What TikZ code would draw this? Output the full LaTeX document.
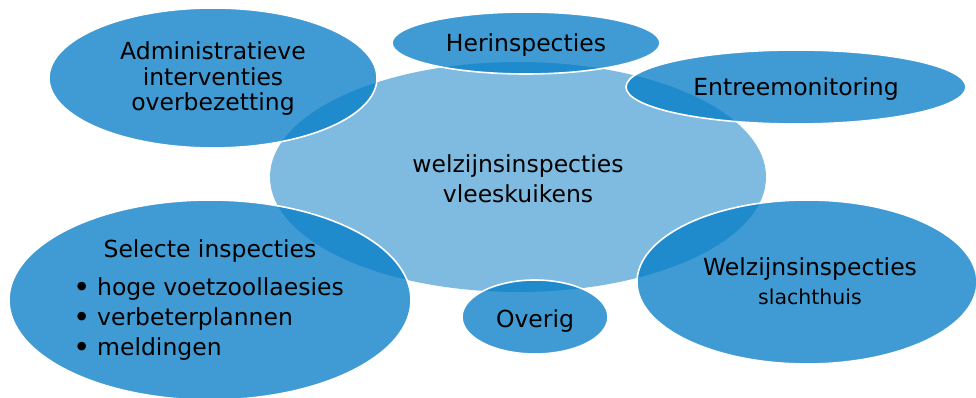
\documentclass[tikz,border=0pt]{standalone}
\usepackage{fontspec}
\setmainfont{DejaVu Sans}
\usetikzlibrary{shapes.geometric}
\definecolor{centerblue}{RGB}{127,187,224}
\definecolor{outerblue}{RGB}{0,122,198}
\newcommand{\bigbul}{\makebox[24pt][l]{\raisebox{-2.2pt}{\scalebox{1.25}{\textbullet}}}}
\tikzset{
  blob/.style={ellipse, inner sep=0pt, fill=outerblue, fill opacity=0.75, draw=white, line width=1.6pt},
  hub/.style={ellipse, inner sep=0pt, fill=centerblue, draw=none},
  lbl/.style={text=black, align=center, font=\fontsize{23.5}{25.5}\selectfont, inner sep=0pt},
}
\begin{document}
\begin{tikzpicture}[x=1pt,y=-1pt]
\useasboundingbox (0,0) rectangle (976,398);
\node[hub, minimum width=496pt, minimum height=230pt] (hubE) at (518,177) {};
\node[blob, minimum width=328pt, minimum height=140pt] (admE) at (213,78) {};
\node[blob, minimum width=268pt, minimum height=62pt] (herE) at (526,43) {};
\node[blob, minimum width=340pt, minimum height=74pt] (entE) at (796,87) {};
\node[blob, minimum width=402pt, minimum height=200pt] (selE) at (210,300) {};
\node[blob, minimum width=146pt, minimum height=74pt] (ovE) at (535,317) {};
\node[blob, minimum width=340pt, minimum height=164pt] (slaE) at (807,282) {};

\node[lbl] (admT) at (213,79) {Administratieve\\interventies\\overbezetting};
\node[lbl] (herT) at (526,45) {Herinspecties};
\node[lbl] (entT) at (796,89) {Entreemonitoring};
\node[lbl, font=\fontsize{23.5}{30}\selectfont] (hubT) at (518,179) {welzijnsinspecties\\vleeskuikens};
\node[lbl] (selT) at (210,251) {Selecte inspecties};
\node[lbl, anchor=base west] (b1) at (73,295) {\bigbul hoge voetzoollaesies};
\node[lbl, anchor=base west] (b2) at (73,325) {\bigbul verbeterplannen};
\node[lbl, anchor=base west] (b3) at (73,355) {\bigbul meldingen};
\node[lbl] (ovT) at (535,321) {Overig};
\node[lbl] (slaT1) at (810,269) {Welzijnsinspecties};
\node[lbl, font=\fontsize{20.5}{22}\selectfont] (slaT2) at (810,297) {slachthuis};
\end{tikzpicture}
\end{document}
